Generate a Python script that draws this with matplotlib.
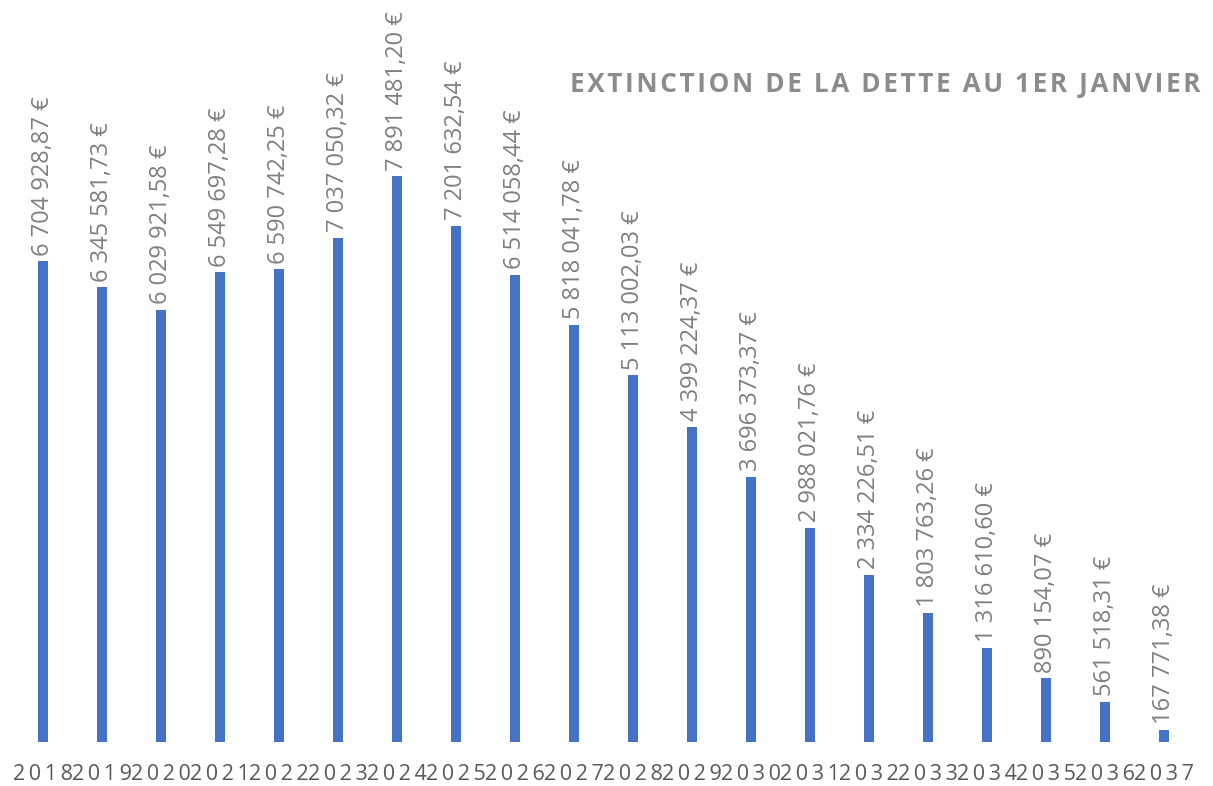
import matplotlib
matplotlib.use("Agg")
import matplotlib.pyplot as plt

years = [str(y) for y in range(2018, 2038)]
values = [6704928.87, 6345581.73, 6029921.58, 6549697.28, 6590742.25, 7037050.32,
          7891481.20, 7201632.54, 6514058.44, 5818041.78, 5113002.03, 4399224.37,
          3696373.37, 2988021.76, 2334226.51, 1803763.26, 1316610.60, 890154.07,
          561518.31, 167771.38]
title = "EXTINCTION DE LA DETTE AU 1ER JANVIER"

def fmt(v):
    s = f"{v:,.2f}"
    ent, dec = s.split(".")
    return ent.replace(",", " ") + "," + dec + " €"

plt.rcParams['font.family'] = ['Open Sans', 'DejaVu Sans']

fig = plt.figure(figsize=(12.13, 7.86), dpi=100)
ax = fig.add_axes([0, 0.056, 1, 0.944])
x = list(range(len(years)))
ax.bar(x, values, width=0.17, color="#4472C4")
ax.set_xlim(-0.729, 19.83)
ax.set_ylim(0, 10.35e6)
for xi, v in zip(x, values):
    ax.annotate(fmt(v), (xi, v), xytext=(0, 4), textcoords="offset points",
                rotation=90, ha="center", va="bottom", fontsize=17, color="#7f7f7f")
ax.set_xticks(x)
ax.set_xticklabels(["\u2009".join(y) for y in years], fontsize=15.5, color="#595959")
ax.tick_params(axis="x", length=0, pad=16)
ax.set_yticks([])
for s in ax.spines.values():
    s.set_visible(False)
fig.text(1200/1213, (786-85)/786, "\u200a".join(title), ha="right", va="center",
         fontsize=18.8, fontweight="bold", color="#8c8c8c")
fig.savefig("out.png", dpi=100)
